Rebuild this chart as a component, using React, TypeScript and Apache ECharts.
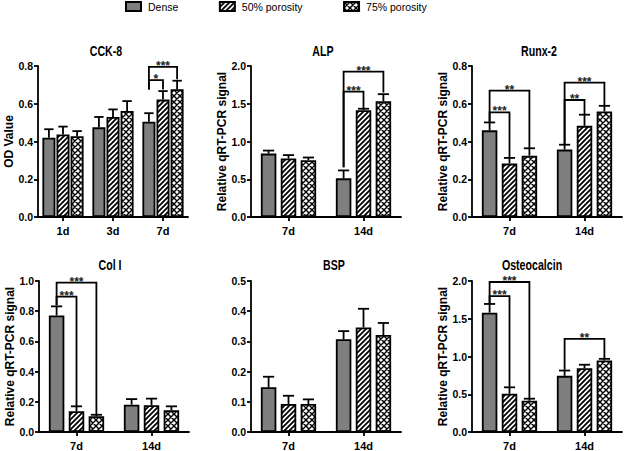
import { useEffect, useRef } from 'react';
import * as echarts from 'echarts';

const FONT = "'Liberation Sans', Arial, Helvetica, sans-serif";

// ---------- data ----------
const seriesNames = ['Dense', '50% porosity', '75% porosity'];
const cck8Categories = ['1d', '3d', '7d'];
const geneCategories = ['7d', '14d'];

const cck8Values = [
  [0.42, 0.475, 0.505],
  [0.437, 0.53, 0.622],
  [0.428, 0.562, 0.677],
];
const cck8Errors = [
  [0.045, 0.055, 0.045],
  [0.042, 0.04, 0.045],
  [0.027, 0.052, 0.045],
];
const cck8Brackets = [
  { cat: 2, from: 0, to: 1, y: 0.725, fromEnd: 0.675, toEnd: 0.675, label: '*' },
  { cat: 2, from: 0, to: 2, y: 0.795, fromEnd: 0.675, toEnd: 0.73, label: '***' },
];

const alpValues = [
  [0.84, 0.512],
  [0.775, 1.414],
  [0.753, 1.532],
];
const alpErrors = [
  [0.04, 0.105],
  [0.045, 0.02],
  [0.035, 0.095],
];
const alpBrackets = [
  { cat: 1, from: 0, to: 1, y: 1.66, fromEnd: 0.66, toEnd: 1.44, label: '***' },
  { cat: 1, from: 0, to: 2, y: 1.925, fromEnd: 0.66, toEnd: 1.65, label: '***' },
];

const runxValues = [
  [0.459, 0.357],
  [0.283, 0.483],
  [0.325, 0.559],
];
const runxErrors = [
  [0.042, 0.026],
  [0.03, 0.059],
  [0.039, 0.03],
];
const runxBrackets = [
  { cat: 0, from: 0, to: 1, y: 0.554, fromEnd: 0.505, toEnd: 0.315, label: '***' },
  { cat: 0, from: 0, to: 2, y: 0.67, fromEnd: 0.505, toEnd: 0.366, label: '**' },
  { cat: 1, from: 0, to: 1, y: 0.62, fromEnd: 0.385, toEnd: 0.545, label: '**' },
  { cat: 1, from: 0, to: 2, y: 0.712, fromEnd: 0.385, toEnd: 0.592, label: '***' },
];

const col1Values = [
  [0.772, 0.181],
  [0.137, 0.177],
  [0.104, 0.144],
];
const col1Errors = [
  [0.06, 0.037],
  [0.033, 0.044],
  [0.01, 0.026],
];
const col1Brackets = [
  { cat: 0, from: 0, to: 1, y: 0.896, fromEnd: 0.84, toEnd: 0.172, label: '***' },
  { cat: 0, from: 0, to: 2, y: 0.989, fromEnd: 0.84, toEnd: 0.117, label: '***' },
];

const bspValues = [
  [0.148, 0.307],
  [0.093, 0.346],
  [0.093, 0.321],
];
const bspErrors = [
  [0.035, 0.027],
  [0.027, 0.062],
  [0.015, 0.04],
];
const bspBrackets: any[] = [];

const ocnValues = [
  [1.581, 0.744],
  [0.507, 0.846],
  [0.414, 0.947],
];
const ocnErrors = [
  [0.115, 0.07],
  [0.085, 0.045],
  [0.027, 0.022],
];
const ocnBrackets = [
  { cat: 0, from: 0, to: 1, y: 1.8, fromEnd: 1.7, toEnd: 0.6, label: '***' },
  { cat: 0, from: 0, to: 2, y: 1.987, fromEnd: 1.7, toEnd: 0.45, label: '***' },
  { cat: 1, from: 0, to: 2, y: 1.233, fromEnd: 0.824, toEnd: 0.978, label: '**' },
];

const panels = [
  { title: 'CCK-8', yName: 'OD Value', cats: cck8Categories, values: cck8Values, errors: cck8Errors, brackets: cck8Brackets, max: 0.8, interval: 0.2 },
  { title: 'ALP', yName: 'Relative qRT-PCR signal', cats: geneCategories, values: alpValues, errors: alpErrors, brackets: alpBrackets, max: 2.0, interval: 0.5 },
  { title: 'Runx-2', yName: 'Relative qRT-PCR signal', cats: geneCategories, values: runxValues, errors: runxErrors, brackets: runxBrackets, max: 0.8, interval: 0.2 },
  { title: 'Col I', yName: 'Relative qRT-PCR signal', cats: geneCategories, values: col1Values, errors: col1Errors, brackets: col1Brackets, max: 1.0, interval: 0.2 },
  { title: 'BSP', yName: '', cats: geneCategories, values: bspValues, errors: bspErrors, brackets: bspBrackets, max: 0.5, interval: 0.1 },
  { title: 'Osteocalcin', yName: 'Relative qRT-PCR signal', cats: geneCategories, values: ocnValues, errors: ocnErrors, brackets: ocnBrackets, max: 2.0, interval: 0.5 },
];

// ---------- layout ----------
const layouts = [
  { left: 38, top: 66, width: 150, height: 151, barWidth: 13, gap: 1.1, titleX: 106, titleY: 51.5 },
  { left: 251, top: 66, width: 150, height: 151, barWidth: 15.5, gap: 4.4, titleX: 323, titleY: 51.5 },
  { left: 472, top: 66, width: 150, height: 151, barWidth: 15.5, gap: 4.4, titleX: 539, titleY: 51.5 },
  { left: 39, top: 281, width: 150, height: 151, barWidth: 15.5, gap: 4.4, titleX: 110, titleY: 265 },
  { left: 251, top: 281, width: 150, height: 151, barWidth: 15.5, gap: 4.4, titleX: 334, titleY: 265 },
  { left: 472, top: 281, width: 150, height: 151, barWidth: 15.5, gap: 4.4, titleX: 532, titleY: 265 },
];

function makeHatch(cross: boolean) {
  const s = cross ? 6 : 5;
  const c = document.createElement('canvas');
  c.width = s;
  c.height = s;
  const ctx = c.getContext('2d')!;
  ctx.fillStyle = '#ffffff';
  ctx.fillRect(0, 0, s, s);
  ctx.strokeStyle = '#000000';
  ctx.lineWidth = cross ? 1.4 : 1.8;
  ctx.beginPath();
  ctx.moveTo(-1, s + 1); ctx.lineTo(s + 1, -1);
  ctx.moveTo(-1, 1); ctx.lineTo(1, -1);
  ctx.moveTo(s - 1, s + 1); ctx.lineTo(s + 1, s - 1);
  if (cross) {
    ctx.moveTo(-1, -1); ctx.lineTo(s + 1, s + 1);
    ctx.moveTo(s - 1, -1); ctx.lineTo(s + 1, 1);
    ctx.moveTo(-1, s - 1); ctx.lineTo(1, s + 1);
  }
  ctx.stroke();
  return { image: c, repeat: 'repeat', imageWidth: s, imageHeight: s } as any;
}

export default function App() {
  const ref = useRef<HTMLDivElement>(null);
  useEffect(() => {
    if (!ref.current) return;
    const chart = echarts.init(ref.current, undefined, { renderer: 'svg' });
    const fills: any[] = ['#7f7f7f', makeHatch(false), makeHatch(true)];
    const axisLine = { show: true, lineStyle: { color: '#000', width: 1.8 } };
    const axisTick = { show: true, length: 4, lineStyle: { color: '#000', width: 1.8 } };

    const series: any[] = [];
    panels.forEach((p, i) => {
      const l = layouts[i];
      const step = l.barWidth + l.gap;
      for (let s = 0; s < 3; s++) {
        series.push({
          type: 'bar',
          name: seriesNames[s],
          xAxisIndex: i,
          yAxisIndex: i,
          data: p.values[s],
          barWidth: l.barWidth,
          barGap: (l.gap / l.barWidth) * 100 + '%',
          itemStyle: { color: fills[s], borderColor: '#000', borderWidth: 1.8 },
          emphasis: { disabled: true },
          z: 2,
        });
      }
      const errData: number[][] = [];
      for (let s = 0; s < 3; s++) {
        p.values[s].forEach((v, c) => errData.push([c, v, s, p.errors[s][c]]));
      }
      series.push({
        type: 'custom',
        xAxisIndex: i,
        yAxisIndex: i,
        data: errData,
        encode: { x: 0, y: 1 },
        z: 3,
        silent: true,
        renderItem: (_params: any, api: any) => {
          const c = api.value(0);
          const v = api.value(1);
          const s = api.value(2);
          const e = api.value(3);
          const base = api.coord([c, v]);
          const x = base[0] + (s - 1) * step;
          const yTop = api.coord([c, v + e])[1];
          const half = l.barWidth * 0.36;
          const st = { stroke: '#000', lineWidth: 1.8 };
          return {
            type: 'group',
            children: [
              { type: 'line', shape: { x1: x, y1: base[1], x2: x, y2: yTop }, style: st },
              { type: 'line', shape: { x1: x - half, y1: yTop, x2: x + half, y2: yTop }, style: st },
            ],
          };
        },
      });
      if (p.brackets.length) {
        series.push({
          type: 'custom',
          xAxisIndex: i,
          yAxisIndex: i,
          data: p.brackets.map((b: any) => [b.cat, b.y]),
          encode: { x: 0, y: 1 },
          z: 4,
          silent: true,
          clip: false,
          renderItem: (params: any, api: any) => {
            const b = p.brackets[params.dataIndex];
            const cx = api.coord([b.cat, 0])[0];
            const xi = cx + (b.from - 1) * step;
            const xj = cx + (b.to - 1) * step;
            const y = api.coord([b.cat, b.y])[1];
            const y1 = api.coord([b.cat, b.fromEnd])[1];
            const y2 = api.coord([b.cat, b.toEnd])[1];
            return {
              type: 'group',
              children: [
                {
                  type: 'polyline',
                  shape: { points: [[xi, y1], [xi, y], [xj, y], [xj, y2]] },
                  style: { stroke: '#000', lineWidth: 1.8, fill: 'none' },
                },
                {
                  type: 'text',
                  x: (xi + xj) / 2,
                  y: y - 1,
                  style: {
                    text: b.label,
                    fontSize: 12,
                    lineHeight: 8,
                    fontWeight: 'bold',
                    fontFamily: FONT,
                    fill: '#222',
                    align: 'center',
                    verticalAlign: 'middle',
                  },
                },
              ],
            };
          },
        });
      }
    });

    const option: any = {
      animation: false,
      backgroundColor: '#ffffff',
      legend: {
        data: seriesNames,
        top: 1,
        left: 125,
        padding: 0,
        itemWidth: 15,
        itemHeight: 9,
        itemGap: 40.5,
        icon: 'rect',
        selectedMode: false,
        textStyle: { fontSize: 10.5, fontFamily: FONT, color: '#000', padding: [0, 0, 0, 2] },
      },
      grid: layouts.map((l) => ({ left: l.left, top: l.top, width: l.width, height: l.height })),
      xAxis: panels.map((p, i) => ({
        type: 'category',
        gridIndex: i,
        data: p.cats,
        axisLine,
        axisTick: { ...axisTick, alignWithLabel: true },
        axisLabel: { color: '#000', fontWeight: 'bold', fontSize: 11, fontFamily: FONT, margin: 8 },
        splitLine: { show: false },
      })),
      yAxis: panels.map((p, i) => ({
        type: 'value',
        gridIndex: i,
        min: 0,
        max: p.max,
        interval: p.interval,
        name: p.yName,
        nameLocation: 'middle',
        nameGap: 23,
        nameTextStyle: { color: '#000', fontWeight: 'bold', fontSize: 12, fontFamily: FONT },
        axisLine,
        axisTick,
        splitLine: { show: false },
        axisLabel: {
          color: '#000',
          fontWeight: 'bold',
          fontSize: 10.5,
          fontFamily: FONT,
          margin: 5,
          formatter: (v: number) => v.toFixed(1),
        },
      })),
      graphic: panels.map((p, i) => ({
        type: 'text',
        x: layouts[i].titleX,
        y: layouts[i].titleY,
        scaleX: 0.76,
        silent: true,
        style: {
          text: p.title,
          fontSize: 14,
          fontWeight: 'bold',
          fontFamily: FONT,
          fill: '#000',
          textAlign: 'center',
          textVerticalAlign: 'middle',
        },
      })),
      series,
    };
    chart.setOption(option);
    return () => chart.dispose();
  }, []);
  return (
    <div
      ref={ref}
      style={{ position: 'absolute', left: 0, top: 0, width: 624, height: 451, background: '#fff' }}
    />
  );
}
